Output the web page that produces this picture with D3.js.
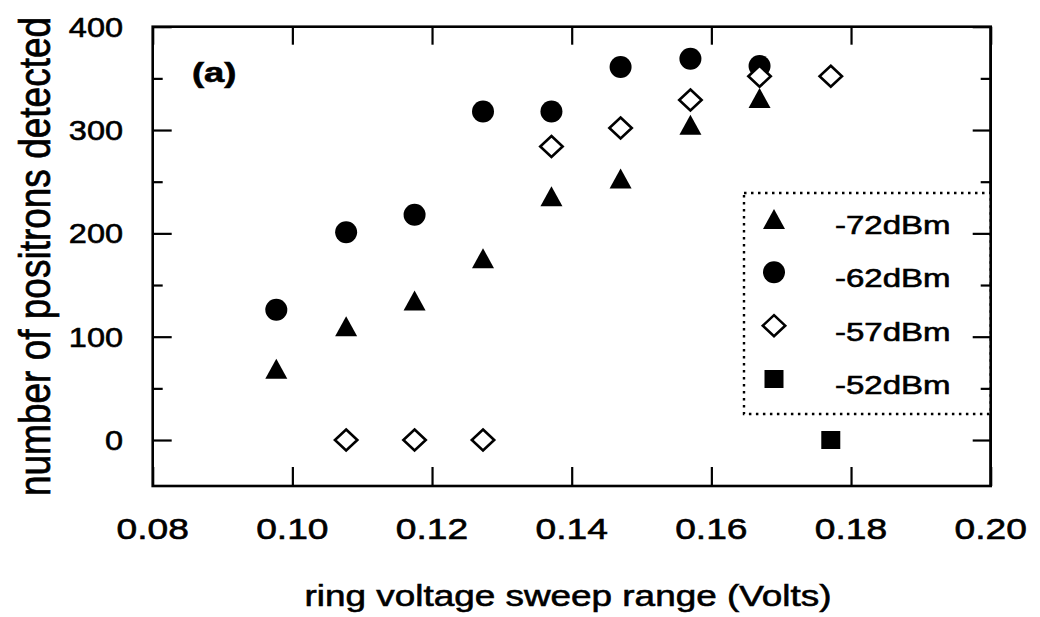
<!DOCTYPE html>
<html>
<head>
<meta charset="utf-8">
<script src="https://cdn.jsdelivr.net/npm/d3@7"></script>
<style>
  body { margin: 0; background: #fff; }
  svg { display: block; }
  text { font-family: "Liberation Sans", Arial, Helvetica, sans-serif; fill: #000; stroke: #000; stroke-width: 0.6px; }
</style>
</head>
<body>
<svg id="chart" width="1040" height="617"></svg>
<script>
// ---- data: positrons detected vs ring voltage sweep range ----
const seriesNames = ["-72dBm", "-62dBm", "-57dBm", "-52dBm"];

const volts72 = [0.0977, 0.1077, 0.1175, 0.1273, 0.1371, 0.1470, 0.1570, 0.1669];
const count72 = [69, 110, 135, 176, 236, 253, 305, 331];

const volts62 = [0.0977, 0.1077, 0.1175, 0.1273, 0.1371, 0.1470, 0.1570, 0.1669];
const count62 = [126, 201, 218, 318, 318, 361, 369, 362];

const volts57 = [0.1077, 0.1175, 0.1273, 0.1371, 0.1470, 0.1570, 0.1669, 0.1771];
const count57 = [0, 0, 0, 284, 302, 329, 352, 352];

const volts52 = [0.1771];
const count52 = [0];

const xTicks = [0.08, 0.10, 0.12, 0.14, 0.16, 0.18, 0.20];
const xTickLabels = ["0.08", "0.10", "0.12", "0.14", "0.16", "0.18", "0.20"];
const yTicks = [0, 100, 200, 300, 400];
const yTickLabels = ["0", "100", "200", "300", "400"];
const yMinorTicks = [50, 150, 250, 350];

const xTitle = "ring voltage sweep range (Volts)";
const yTitle = "number of positrons detected";
const panelTag = "(a)";

// ---- layout ----
const svg = d3.select("#chart");
const plot = { left: 152.7, right: 990.7, top: 26.7, bottom: 486 };

const x = d3.scaleLinear().domain([0.08, 0.20]).range([plot.left, plot.right]);
const y = d3.scaleLinear().domain([-44.5, 400]).range([plot.bottom, plot.top]);

// ---- marker shapes (centred on their bounding box) ----
const shapes = {
  triangle: { d: "M0,-10L11,10L-11,10Z", fill: "#000", stroke: "none", sw: 0 },
  circle:   { d: d3.symbol(d3.symbolCircle, Math.PI * 11 * 11)(), fill: "#000", stroke: "none", sw: 0 },
  diamond:  { d: "M0,-10.5L11.2,0L0,10.5L-11.2,0Z", fill: "#fff", stroke: "#000", sw: 2.6 },
  square:   { d: "M-9.5,-9L9.5,-9L9.5,9L-9.5,9Z", fill: "#000", stroke: "none", sw: 0 }
};

const series = [
  { name: seriesNames[0], xs: volts72, ys: count72, shape: "triangle" },
  { name: seriesNames[1], xs: volts62, ys: count62, shape: "circle" },
  { name: seriesNames[2], xs: volts57, ys: count57, shape: "diamond" },
  { name: seriesNames[3], xs: volts52, ys: count52, shape: "square" }
];

// ---- axes: inward ticks on all four sides ----
const majorLen = 19, minorLen = 10;

function tickGroup(axis, tx, ty) {
  return svg.append("g")
    .attr("transform", `translate(${tx},${ty})`)
    .call(axis)
    .call(g => g.select(".domain").remove())
    .call(g => g.selectAll(".tick line").attr("stroke", "#000").attr("stroke-width", 2.2));
}

tickGroup(d3.axisBottom(x).tickValues(xTicks).tickSizeInner(-majorLen).tickSizeOuter(0).tickFormat(""), 0, plot.bottom);
tickGroup(d3.axisTop(x).tickValues(xTicks).tickSizeInner(-majorLen + 1).tickSizeOuter(0).tickFormat(""), 0, plot.top);
tickGroup(d3.axisLeft(y).tickValues(yTicks).tickSizeInner(-majorLen).tickSizeOuter(0).tickFormat(""), plot.left, 0);
tickGroup(d3.axisLeft(y).tickValues(yMinorTicks).tickSizeInner(-minorLen).tickSizeOuter(0).tickFormat(""), plot.left, 0);

// frame
svg.append("rect")
  .attr("x", plot.left).attr("y", plot.top)
  .attr("width", plot.right - plot.left).attr("height", plot.bottom - plot.top)
  .attr("fill", "none").attr("stroke", "#000").attr("stroke-width", 2.6);

// ---- tick labels (wide face) ----
svg.append("g").selectAll("text")
  .data(xTicks)
  .join("text")
  .attr("transform", (d) => `translate(${x(d)},539) scale(1.24,1)`)
  .attr("text-anchor", "middle")
  .attr("font-size", 30)
  .text((d, i) => xTickLabels[i]);

svg.append("g").selectAll("text")
  .data(yTicks)
  .join("text")
  .attr("transform", (d) => `translate(123,${y(d) + 10}) scale(1.16,1)`)
  .attr("text-anchor", "end")
  .attr("font-size", 28)
  .text((d, i) => yTickLabels[i]);

// ---- axis titles ----
svg.append("text")
  .attr("transform", "translate(568,606) scale(1.23,1)")
  .attr("text-anchor", "middle")
  .attr("font-size", 30)
  .text(xTitle);

svg.append("text")
  .attr("transform", "translate(50,256.5) scale(1.2,1) rotate(-90)")
  .attr("text-anchor", "middle")
  .attr("font-size", 37)
  .text(yTitle);

// panel tag
svg.append("text")
  .attr("transform", "translate(192,82) scale(1.3,1)")
  .attr("font-size", 28)
  .attr("font-weight", "bold")
  .text(panelTag);

// ---- data markers ----
series.forEach(s => {
  const sh = shapes[s.shape];
  svg.append("g").selectAll("path")
    .data(s.xs.map((v, i) => [v, s.ys[i]]))
    .join("path")
    .attr("transform", d => `translate(${x(d[0])},${y(d[1])})`)
    .attr("d", sh.d)
    .attr("fill", sh.fill)
    .attr("stroke", sh.stroke)
    .attr("stroke-width", sh.sw)
    .attr("stroke-linejoin", "miter");
});

// ---- legend ----
const legend = { x: 744, y: 193, w: plot.right - 744, h: 221 };
svg.append("rect")
  .attr("x", legend.x).attr("y", legend.y)
  .attr("width", legend.w).attr("height", legend.h)
  .attr("fill", "#fff")
  .attr("stroke", "#000").attr("stroke-width", 2.4)
  .attr("stroke-dasharray", "2.5,4.5");

// right edge of the frame and its ticks, drawn over the legend box
svg.append("line")
  .attr("x1", plot.right).attr("x2", plot.right)
  .attr("y1", plot.top).attr("y2", plot.bottom)
  .attr("stroke", "#000").attr("stroke-width", 2.6);
tickGroup(d3.axisRight(y).tickValues(yTicks).tickSizeInner(-majorLen + 1).tickSizeOuter(0).tickFormat(""), plot.right, 0);
tickGroup(d3.axisRight(y).tickValues(yMinorTicks).tickSizeInner(-minorLen).tickSizeOuter(0).tickFormat(""), plot.right, 0);

const legendRow = d3.scaleLinear().domain([0, 3]).range([219, 379]);
const legendItems = svg.append("g").selectAll("g")
  .data(series)
  .join("g")
  .attr("transform", (d, i) => `translate(0,${legendRow(i)})`);

legendItems.append("path")
  .attr("transform", "translate(774,0)")
  .attr("d", d => shapes[d.shape].d)
  .attr("fill", d => shapes[d.shape].fill)
  .attr("stroke", d => shapes[d.shape].stroke)
  .attr("stroke-width", d => shapes[d.shape].sw);

legendItems.append("text")
  .attr("transform", "translate(835,15) scale(1.27,1)")
  .attr("font-size", 26)
  .text(d => d.name);
</script>
</body>
</html>
